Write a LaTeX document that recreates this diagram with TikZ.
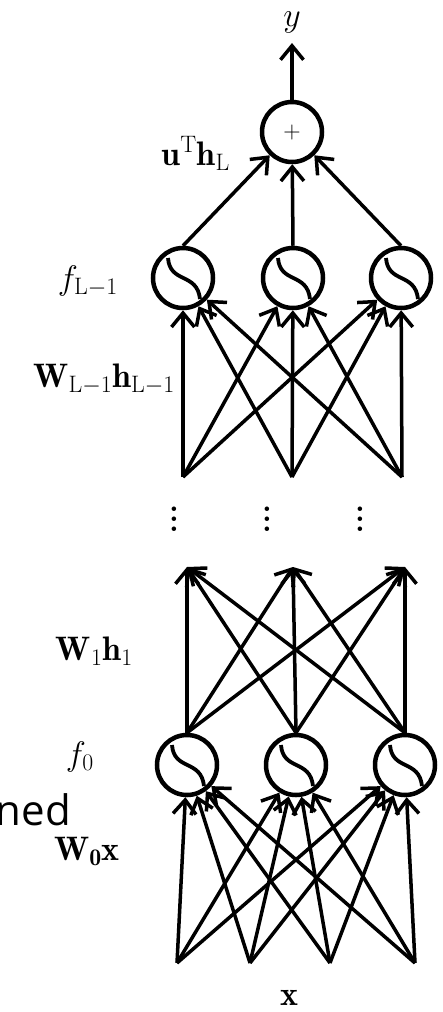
\RequirePackage{fix-cm}
\documentclass[tikz,border=0pt]{standalone}
\usepackage{fontspec}
\newfontfamily\cutsans{Open Sans}
\usetikzlibrary{arrows.meta,calc}
\tikzset{
  neuron/.style={circle, draw, line width=4.5pt, minimum size=60pt, inner sep=0pt},
  conn/.style={line width=3.5pt, -{Straight Barb[length=14pt,width=23pt]}},
  sig/.style={line width=3.8pt},
  lbl/.style={inner sep=0pt, font=\fontsize{34}{40}\selectfont},
  dotsnode/.style={inner sep=0pt, anchor=base, font=\fontsize{22}{24}\selectfont},
}
\begin{document}
\begin{tikzpicture}[x=1pt,y=-1pt]
\useasboundingbox (0,0) rectangle (442,1012);
% nodes
\node[neuron, font=\fontsize{24}{26}\selectfont] (p) at (292,132) {$+$};
\node[lbl, outer sep=10pt, anchor=south] (y) at (292,43) {$y$};
\node[neuron] (a1) at (183,278) {};
\node[neuron] (a2) at (293,278) {};
\node[neuron] (a3) at (401,278) {};
\node[neuron] (b1) at (187,765) {};
\node[neuron] (b2) at (296,765) {};
\node[neuron] (b3) at (405,765) {};
\coordinate (t1) at (183,477);
\coordinate (t2) at (292,477);
\coordinate (t3) at (402,477);
\coordinate (m1) at (187,567);
\coordinate (m2) at (293,567);
\coordinate (m3) at (405,567);
\coordinate (x1) at (177,963);
\coordinate (x2) at (250,963);
\coordinate (x3) at (330,963);
\coordinate (x4) at (415,963);
% sigmoids
\foreach \n in {a1,a2,a3,b1,b2,b3}
  \draw[sig] ([shift={(-15,-20)}]\n.center) .. controls ([shift={(-13,6)}]\n.center) and ([shift={(14,-6)}]\n.center) .. ([shift={(17,21)}]\n.center);
% connectors
\draw[conn] (p) -- (y);
\foreach \i in {1,2,3} \draw[conn] (a\i.north) -- (p);
\foreach \i in {1,2,3} \foreach \j in {1,2,3} \draw[conn] (t\i) -- (a\j);
\foreach \i in {1,2,3} \foreach \j in {1,2,3} \draw[conn] (b\i.north) -- (m\j);
\foreach \i in {1,2,3,4} \foreach \j in {1,2,3} \draw[conn] (x\i) -- (b\j);
% dots
\node[dotsnode] (d1) at (174,531) {\scalebox{2.5}{$\vdots$}};
\node[dotsnode] (d2) at (267,531) {\scalebox{2.5}{$\vdots$}};
\node[dotsnode] (d3) at (360,531) {\scalebox{2.5}{$\vdots$}};
% labels
\node[lbl, anchor=base east] (lu) at (230,165) {$\mathbf{u}^{\mathrm{T}}\mathbf{h}_{\mathrm{L}}$};
\node[lbl, anchor=base east] (lf1) at (118,289) {$f_{\mathrm{L}-1}$};
\node[lbl, anchor=base east] (lw1) at (175,387) {$\mathbf{W}_{\mathrm{L}-1}\mathbf{h}_{\mathrm{L}-1}$};
\node[lbl, anchor=base east] (lw2) at (133,660) {$\mathbf{W}_{1}\mathbf{h}_{1}$};
\node[lbl, anchor=base east] (lf0) at (94,765) {$f_{0}$};
\node[inner sep=0pt, anchor=base east, font=\cutsans\fontsize{42}{50}\selectfont] (ned) at (71,825) {ned};
\node[lbl, anchor=base east] (lw0) at (120,860) {$\mathbf{W}_{\mathbf{0}}\mathbf{x}$};
\node[lbl] (lx) at (289,998) {$\mathbf{x}$};
\end{tikzpicture}
\end{document}
